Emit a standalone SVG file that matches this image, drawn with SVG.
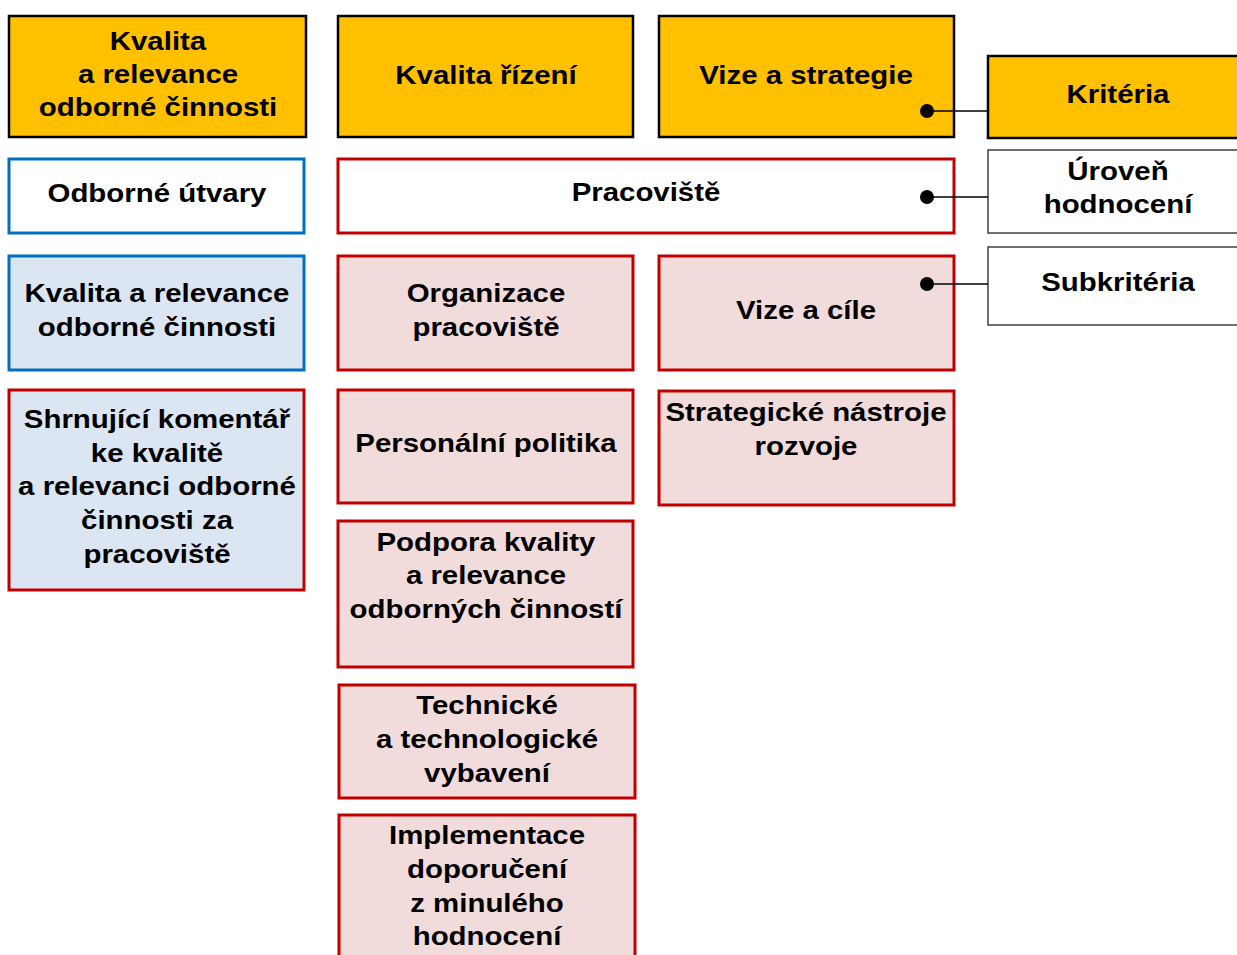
<svg xmlns="http://www.w3.org/2000/svg" width="1237" height="955" viewBox="0 0 1237 955">
<style>
text{font-family:"Liberation Sans",Arial,sans-serif;font-weight:bold;font-size:26.5px;fill:#000;text-anchor:middle}
.or{fill:#FFC000;stroke:#000;stroke-width:2.5}
.bw{fill:#fff;stroke:#0070C0;stroke-width:3}
.bl{fill:#DCE6F2;stroke:#0070C0;stroke-width:3}
.rl{fill:#DCE6F2;stroke:#C00000;stroke-width:3}
.rw{fill:#fff;stroke:#C00000;stroke-width:3}
.rp{fill:#F2DCDB;stroke:#C00000;stroke-width:3}
.lg{fill:#fff;stroke:#404040;stroke-width:1.5}
.ln{stroke:#000;stroke-width:1.3;fill:none}
.dot{fill:#000}
</style>
<rect width="1237" height="955" fill="#fff"/>
<g id="n-kvalita-top"><rect class="or" x="9" y="16" width="297" height="121"/><g transform="translate(158 0) scale(1.11 1)"><text x="0" y="50">Kvalita</text><text x="0" y="83">a relevance</text><text x="0" y="116">odborné činnosti</text></g></g>
<g id="n-kvalita-rizeni"><rect class="or" x="338" y="16" width="295" height="121"/><g transform="translate(486 0) scale(1.11 1)"><text x="0" y="84">Kvalita řízení</text></g></g>
<g id="n-vize-strategie"><rect class="or" x="659" y="16" width="295" height="121"/><g transform="translate(806 0) scale(1.11 1)"><text x="0" y="84">Vize a strategie</text></g></g>
<g id="n-kriteria"><rect class="or" x="988" y="56" width="252" height="82"/><g transform="translate(1118 0) scale(1.11 1)"><text x="0" y="103">Kritéria</text></g></g>
<g id="n-odborne-utvary"><rect class="bw" x="9" y="159" width="295" height="74"/><g transform="translate(157 0) scale(1.11 1)"><text x="0" y="202">Odborné útvary</text></g></g>
<g id="n-pracoviste"><rect class="rw" x="338" y="159" width="616" height="74"/><g transform="translate(646 0) scale(1.11 1)"><text x="0" y="201">Pracoviště</text></g></g>
<g id="n-uroven"><rect class="lg" x="988" y="150" width="252" height="83"/><g transform="translate(1118 0) scale(1.11 1)"><text x="0" y="180">Úroveň</text><text x="0" y="213">hodnocení</text></g></g>
<g id="n-kvalita-relevance"><rect class="bl" x="9" y="256" width="295" height="114"/><g transform="translate(157 0) scale(1.11 1)"><text x="0" y="302">Kvalita a relevance</text><text x="0" y="336">odborné činnosti</text></g></g>
<g id="n-organizace"><rect class="rp" x="338" y="256" width="295" height="114"/><g transform="translate(486 0) scale(1.11 1)"><text x="0" y="302">Organizace</text><text x="0" y="336">pracoviště</text></g></g>
<g id="n-vize-cile"><rect class="rp" x="659" y="256" width="295" height="114"/><g transform="translate(806 0) scale(1.11 1)"><text x="0" y="319">Vize a cíle</text></g></g>
<g id="n-subkriteria"><rect class="lg" x="988" y="247" width="252" height="78"/><g transform="translate(1118 0) scale(1.11 1)"><text x="0" y="291">Subkritéria</text></g></g>
<g id="n-shrnujici"><rect class="rl" x="9" y="390" width="295" height="200"/><g transform="translate(157 0) scale(1.11 1)"><text x="0" y="428">Shrnující komentář</text><text x="0" y="462">ke kvalitě</text><text x="0" y="495">a relevanci odborné</text><text x="0" y="529">činnosti za</text><text x="0" y="563">pracoviště</text></g></g>
<g id="n-personalni"><rect class="rp" x="338" y="390" width="295" height="113"/><g transform="translate(486 0) scale(1.11 1)"><text x="0" y="452">Personální politika</text></g></g>
<g id="n-strategicke"><rect class="rp" x="659" y="391" width="295" height="114"/><g transform="translate(806 0) scale(1.11 1)"><text x="0" y="421">Strategické nástroje</text><text x="0" y="455">rozvoje</text></g></g>
<g id="n-podpora"><rect class="rp" x="338" y="521" width="295" height="146"/><g transform="translate(486 0) scale(1.11 1)"><text x="0" y="551">Podpora kvality</text><text x="0" y="584">a relevance</text><text x="0" y="618">odborných činností</text></g></g>
<g id="n-technicke"><rect class="rp" x="339" y="685" width="296" height="113"/><g transform="translate(487 0) scale(1.11 1)"><text x="0" y="714">Technické</text><text x="0" y="748">a technologické</text><text x="0" y="782">vybavení</text></g></g>
<g id="n-implementace"><rect class="rp" x="339" y="815" width="296" height="150"/><g transform="translate(487 0) scale(1.11 1)"><text x="0" y="844">Implementace</text><text x="0" y="878">doporučení</text><text x="0" y="912">z minulého</text><text x="0" y="945">hodnocení</text></g></g>
<g id="connectors">
<line class="ln" x1="927" y1="111" x2="988" y2="111"/><circle class="dot" cx="927" cy="111" r="7"/>
<line class="ln" x1="927" y1="197" x2="988" y2="197"/><circle class="dot" cx="927" cy="197" r="7"/>
<line class="ln" x1="927" y1="284" x2="988" y2="284"/><circle class="dot" cx="927" cy="284" r="7"/>
</g>
</svg>
